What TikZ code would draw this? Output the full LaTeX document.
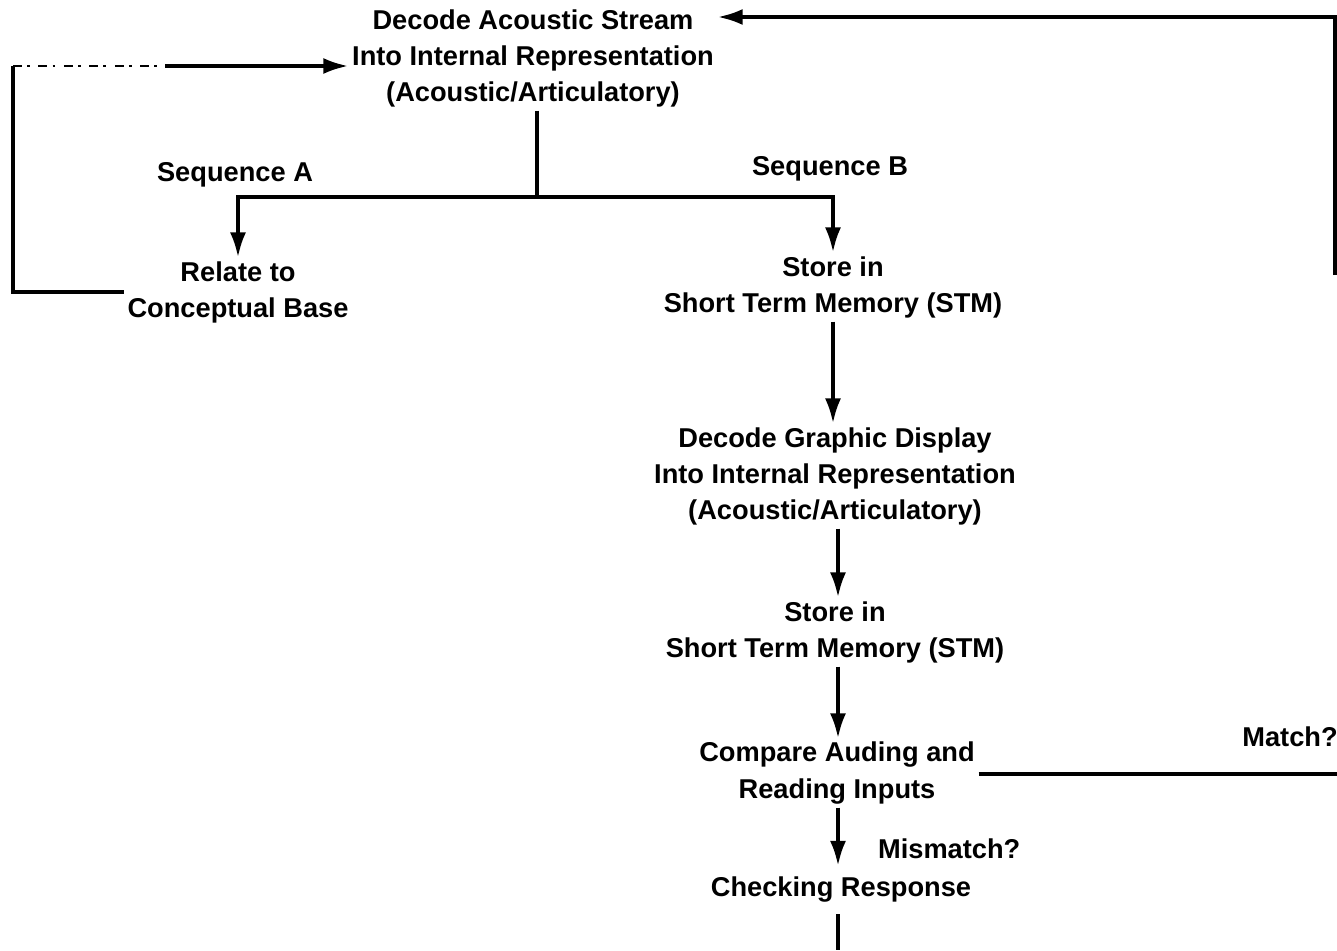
\documentclass[tikz,border=0pt]{standalone}
\usepackage{fontspec}
\setmainfont{Liberation Sans}
\usetikzlibrary{arrows.meta}
\begin{document}
\begin{tikzpicture}[x=0.02cm,y=-0.02cm,
  txt/.style={align=center,inner sep=2pt,font=\fontsize{15.5}{20.5}\selectfont\bfseries},
  lbl/.style={inner sep=1pt,font=\fontsize{15.5}{20.5}\selectfont\bfseries},
  ln/.style={line width=2.1pt},
  arr/.style={line width=2.1pt,-{Latex[length=5mm,width=3.2mm]}}]
\useasboundingbox (0,0) rectangle (1337,950);
\node[txt] (dA) at (533,58) {Decode Acoustic Stream\\Into Internal Representation\\(Acoustic/Articulatory)};
\node[txt] (relA) at (238,292) {Relate to\\Conceptual Base};
\node[txt] (stm1) at (833,287) {Store in\\Short Term Memory (STM)};
\node[txt] (dG) at (835,476) {Decode Graphic Display\\Into Internal Representation\\(Acoustic/Articulatory)};
\node[txt] (stm2) at (835,632) {Store in\\Short Term Memory (STM)};
\node[txt] (cmp) at (837,773) {Compare Auding and\\Reading Inputs};
\node[txt] (chk) at (841,890) {Checking Response};
\node[lbl] (seqA) at (235,175) {Sequence A};
\node[lbl] (seqB) at (830,169) {Sequence B};
\node[lbl] (match) at (1290,737) {Match?};
\node[lbl,anchor=west] (mism) at (876,849) {Mismatch?};
\coordinate (j) at (537,197);
\coordinate (c2) at (13,66);
\coordinate (c3) at (165,66);
\coordinate (r1) at (1335,275);
\coordinate (r2) at (1335,17);
\coordinate (mR) at (1337,774);
\coordinate (bot) at (838,950);
% tree
\draw[ln] (j |- dA.south) -- (j);
\draw[arr] (j) -| (relA.north);
\draw[arr] (j) -| (stm1.north);
% left feedback
\draw[ln] (relA.west) -| (c2);
\draw[line width=1.4pt,dash pattern=on 5pt off 3pt on 1.5pt off 5pt] (c2) -- (c3);
\draw[arr] (c3) -- (dA.west |- c3);
% right feedback
\draw[arr] (r1) -- (r2) -- (dA.east |- r2);
% main chain
\draw[arr] (stm1.south) -- (stm1.south |- dG.north);
\draw[arr] (dG.south -| bot) -- (bot |- stm2.north);
\draw[arr] (stm2.south -| bot) -- (bot |- cmp.north);
\draw[arr,shorten >=1.5mm] (cmp.south -| bot) -- (bot |- chk.north);
\draw[ln] (cmp.east |- mR) -- (mR);
\draw[ln,shorten <=1.5mm] (chk.south -| bot) -- (bot);
\end{tikzpicture}
\end{document}
